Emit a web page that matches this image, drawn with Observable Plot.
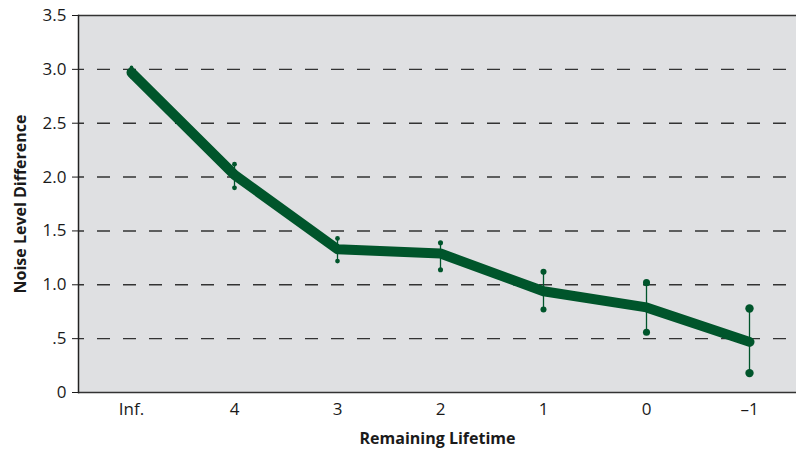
<!DOCTYPE html>
<html>
<head>
<meta charset="utf-8">
<script src="https://cdn.jsdelivr.net/npm/d3@7"></script>
<script src="https://cdn.jsdelivr.net/npm/@observablehq/plot@0.6"></script>
<style>
  html, body { margin: 0; padding: 0; background: #fff; }
  #chart { width: 796px; height: 450px; }
  svg { font-family: "Open Sans", "Noto Sans", sans-serif; }
</style>
</head>
<body>
<div id="chart"></div>
<script>
// Categories (x) and values
const categories = ["Inf.", "4", "3", "2", "1", "0", "–1"];
const means      = [2.97, 2.02, 1.33, 1.29, 0.94, 0.79, 0.47];
const upper      = [3.02, 2.12, 1.43, 1.39, 1.12, 1.02, 0.78];
const lower      = [2.93, 1.90, 1.22, 1.14, 0.77, 0.56, 0.18];
const yTicks     = [0, 0.5, 1.0, 1.5, 2.0, 2.5, 3.0, 3.5];
const yTickLabels = ["0", ".5", "1.0", "1.5", "2.0", "2.5", "3.0", "3.5"];
const gridValues = [0.5, 1.0, 1.5, 2.0, 2.5, 3.0];

const rows = categories.map((c, i) => ({
  cat: c, mean: means[i], hi: upper[i], lo: lower[i], spread: upper[i] - lower[i]
}));
const ends = rows.flatMap(d => [{cat: d.cat, v: d.hi, spread: d.spread}, {cat: d.cat, v: d.lo, spread: d.spread}]);

const green = "#00552b";

const chart = Plot.plot({
  width: 796,
  height: 450,
  marginLeft: 78,
  marginRight: 0,
  marginTop: 15,
  marginBottom: 58,
  style: {fontFamily: "'Open Sans', 'Noto Sans', sans-serif", fontSize: "17px", color: "#1a1a1a", background: "#fff"},
  x: {type: "point", domain: categories, padding: 0.469, align: 0.526},
  y: {domain: [0, 3.5]},
  r: {type: "linear", domain: [0.09, 0.6], range: [1.8, 4.2]},
  marks: [
    Plot.frame({fill: "#dfe0e2", stroke: null}),
    Plot.ruleY(gridValues, {stroke: "#333", strokeWidth: 1.4, strokeDasharray: "13,13", strokeDashoffset: 7}),
    Plot.ruleY([0, 3.5], {stroke: "#333", strokeWidth: 1.5}),
    Plot.frame({anchor: "left", stroke: "#222", strokeWidth: 1.5}),
    Plot.axisY({
      ticks: yTicks,
      tickFormat: (d) => yTickLabels[yTicks.indexOf(d)],
      tickSize: 6,
      tickPadding: 6,
      fontSize: 17,
      label: "Noise Level Difference",
      labelAnchor: "center",
      labelArrow: "none",
      labelOffset: 64
    }),
    Plot.axisX({
      tickSize: 0,
      tickPadding: 10,
      fontSize: 17,
      label: "Remaining Lifetime",
      labelAnchor: "center",
      labelArrow: "none",
      labelOffset: 51
    }),
    Plot.ruleX(rows, {x: "cat", y1: "lo", y2: "hi", stroke: green, strokeWidth: 1.3}),
    Plot.line(rows, {x: "cat", y: "mean", stroke: green, strokeWidth: 10, strokeLinejoin: "round", strokeLinecap: "round"}),
    Plot.dot(ends, {x: "cat", y: "v", r: "spread", fill: green, stroke: null})
  ]
});

// style axis labels bold
chart.querySelectorAll("[aria-label='y-axis label'], [aria-label='x-axis label']").forEach(g => {
  g.style.fontWeight = "bold";
  g.style.fontSize = "16px";
  g.querySelectorAll("text").forEach(t => { t.style.fontWeight = "bold"; t.style.fontSize = "16px"; });
});
document.getElementById("chart").appendChild(chart);
</script>
</body>
</html>
